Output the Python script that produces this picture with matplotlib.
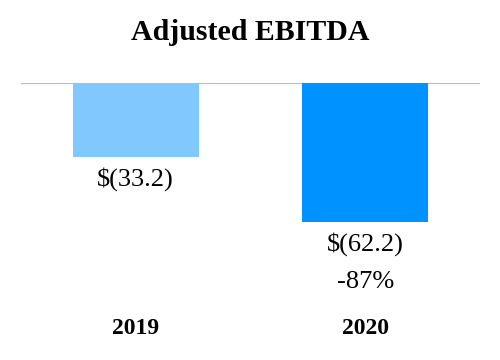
import matplotlib.pyplot as plt

# Adjusted EBITDA, $ millions
years = ["2019", "2020"]
values = [-33.2, -62.2]
value_labels = ["$(33.2)", "$(62.2)"]
change_label = "-87%"
colors = ["#80C8FF", "#0092FF"]

plt.rcParams['font.family'] = ['Liberation Serif', 'DejaVu Serif']

fig = plt.figure(figsize=(5, 3.6), dpi=100)
ax = fig.add_axes([21 / 500, 0, 459 / 500, 277 / 360])

x = range(len(years))
ax.bar(x, values, width=0.548, color=colors, zorder=2)
ax.axhline(0, color="#BFBFBF", lw=1.6, zorder=1)
ax.set_xlim(-0.5, 1.5)
ax.set_ylim(-124, 0)
ax.axis("off")

# value labels under bars
for i, v in enumerate(values):
    ax.annotate(value_labels[i], (i, v), xytext=(0, -16), textcoords="offset points",
                ha="center", va="center", fontsize=19)
ax.annotate(change_label, (1, values[1]), xytext=(0, -43.5), textcoords="offset points",
            ha="center", va="center", fontsize=19)

# year labels
for i, y in enumerate(years):
    ax.annotate(y, (i, 0), xycoords=("data", "figure pixels"), xytext=(i, 31),
                textcoords=("data", "figure pixels"), ha="center", va="center",
                fontsize=17, fontweight="bold")

fig.text(0.5, 1 - 33 / 360, "Adjusted EBITDA", ha="center", va="center",
         fontsize=21.5, fontweight="bold")

fig.savefig("out.png", dpi=100)
